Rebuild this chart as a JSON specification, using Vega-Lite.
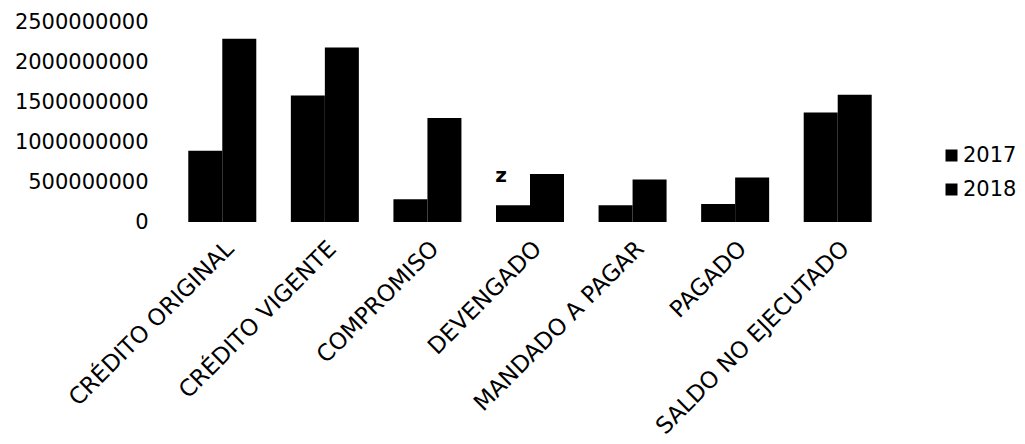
{
  "$schema": "https://vega.github.io/schema/vega-lite/v6.json",
  "width": 718,
  "height": 200,
  "autosize": {"type": "none"},
  "padding": {"left": 171, "top": 22, "right": 136, "bottom": 222},
  "background": "white",
  "config": {
    "view": {"stroke": null},
    "font": "DejaVu Sans",
    "axis": {"labelFont": "DejaVu Sans", "labelColor": "#000", "labelOverlap": false},
    "legend": {"labelFont": "DejaVu Sans", "labelColor": "#000"}
  },
  "datasets": {
    "bars": [
      {"categoria": "CRÉDITO ORIGINAL", "anio": "2017", "valor": 890000000},
      {"categoria": "CRÉDITO ORIGINAL", "anio": "2018", "valor": 2290000000},
      {"categoria": "CRÉDITO VIGENTE", "anio": "2017", "valor": 1580000000},
      {"categoria": "CRÉDITO VIGENTE", "anio": "2018", "valor": 2180000000},
      {"categoria": "COMPROMISO", "anio": "2017", "valor": 285000000},
      {"categoria": "COMPROMISO", "anio": "2018", "valor": 1300000000},
      {"categoria": "DEVENGADO", "anio": "2017", "valor": 210000000},
      {"categoria": "DEVENGADO", "anio": "2018", "valor": 600000000},
      {"categoria": "MANDADO A PAGAR", "anio": "2017", "valor": 210000000},
      {"categoria": "MANDADO A PAGAR", "anio": "2018", "valor": 530000000},
      {"categoria": "PAGADO", "anio": "2017", "valor": 225000000},
      {"categoria": "PAGADO", "anio": "2018", "valor": 555000000},
      {"categoria": "SALDO NO EJECUTADO", "anio": "2017", "valor": 1370000000},
      {"categoria": "SALDO NO EJECUTADO", "anio": "2018", "valor": 1590000000}
    ],
    "nota": [
      {"categoria": "DEVENGADO", "valor": 575000000, "etiqueta": "z"}
    ]
  },
  "layer": [
    {
      "data": {"name": "bars"},
      "mark": {"type": "bar", "color": "black"},
      "encoding": {
        "x": {
          "field": "categoria", "type": "nominal", "sort": null,
          "scale": {"paddingInner": 0.337, "paddingOuter": 0.1685},
          "axis": {"title": null, "labelAngle": -45, "labelFontSize": 23, "domain": false, "ticks": false, "labelPadding": 15, "labelDx": -21, "labelLimit": 400, "labelOverlap": false}
        },
        "xOffset": {"field": "anio", "type": "nominal", "scale": {"paddingInner": 0, "paddingOuter": 0}},
        "y": {
          "field": "valor", "type": "quantitative",
          "scale": {"domain": [0, 2500000000], "nice": false},
          "axis": {"title": null, "values": [0, 500000000, 1000000000, 1500000000, 2000000000, 2500000000], "tickCount": 10, "format": "d", "labelFontSize": 21, "domain": false, "ticks": false, "grid": false, "labelPadding": 23, "labelOverlap": false}
        },
        "color": {
          "field": "anio", "type": "nominal",
          "scale": {"range": ["#000000", "#000000"]},
          "legend": {"title": null, "orient": "none", "legendX": 770, "legendY": 123, "symbolType": "square", "symbolSize": 144, "labelFontSize": 21, "rowPadding": 12, "labelOffset": 1}
        }
      }
    },
    {
      "data": {"name": "nota"},
      "mark": {"type": "text", "dx": -29, "fontSize": 20, "fontWeight": "bold", "color": "black"},
      "encoding": {
        "x": {"field": "categoria", "type": "nominal", "sort": null},
        "y": {"field": "valor", "type": "quantitative"},
        "text": {"field": "etiqueta"}
      }
    }
  ]
}
